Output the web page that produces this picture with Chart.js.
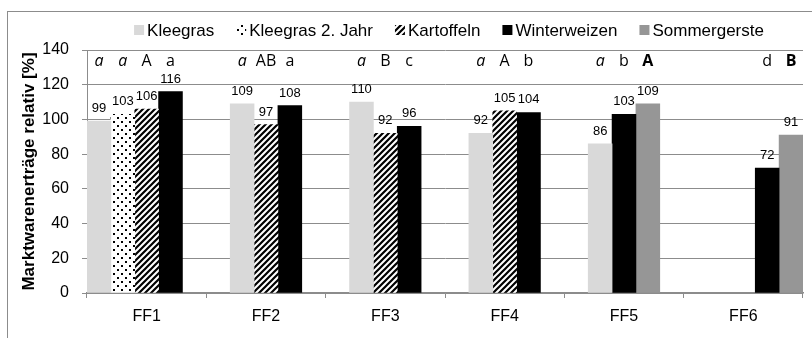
<!DOCTYPE html>
<html>
<head>
<meta charset="utf-8">
<script src="https://cdn.jsdelivr.net/npm/chart.js@4"></script>
<style>
  html, body { margin: 0; padding: 0; background: #fff; overflow: hidden; }
  #wrap { position: relative; width: 812px; height: 338px; overflow: hidden; }
  #frame { position: absolute; left: 7px; top: 11px; width: 830px; height: 360px; border: 1px solid #8c8c8c; }
  #chart { position: absolute; left: 0; top: 0; }
</style>
</head>
<body>
<div id="wrap"><div id="frame"></div><canvas id="chart" width="812" height="338"></canvas></div>
<script>
// values; null = no bar, 0 = empty slot kept for spacing
const categories = ["FF1", "FF2", "FF3", "FF4", "FF5", "FF6"];
const kleegras = [99, 109, 110, 92, 86, 0];
const kleegras2 = [103, null, null, null, null, 0];
const kartoffeln = [106, 97, 92, 105, null, 0];
const winterweizen = [116, 108, 96, 104, 103, 72];
const sommergerste = [0, null, null, null, 109, 91];

// significance letters above the bars
const lettersKleegras = ["a", "a", "a", "a", "a", ""];
const lettersKleegras2 = ["a", "", "", "", "", ""];
const lettersKartoffeln = ["A", "AB", "B", "A", "", ""];
const lettersWinterweizen = ["a", "a", "c", "b", "b", "d"];
const lettersSommergerste = ["", "", "", "", "A", "B"];

const yTicks = [0, 20, 40, 60, 80, 100, 120, 140];

const canvas = document.getElementById("chart");
const ctx = canvas.getContext("2d");

function dotPattern() {
    const t = document.createElement("canvas");
    t.width = 8; t.height = 8;
    const c = t.getContext("2d");
    c.fillStyle = "#fff";
    c.fillRect(0, 0, 8, 8);
    c.fillStyle = "#000";
    c.fillRect(1, 1, 2, 2);
    c.fillRect(5, 5, 2, 2);
    return ctx.createPattern(t, "repeat");
}

function stripePattern() {
    const s = 6;
    const t = document.createElement("canvas");
    t.width = s; t.height = s;
    const c = t.getContext("2d");
    c.fillStyle = "#fff";
    c.fillRect(0, 0, s, s);
    c.strokeStyle = "#000";
    c.lineWidth = 2.2;
    c.beginPath();
    c.moveTo(-1, 1); c.lineTo(1, -1);
    c.moveTo(0, s); c.lineTo(s, 0);
    c.moveTo(s - 1, s + 1); c.lineTo(s + 1, s - 1);
    c.stroke();
    return ctx.createPattern(t, "repeat");
}

const fills = ["#d9d9d9", dotPattern(), stripePattern(), "#000000", "#969696"];
// empty spacing slots stay invisible
const fillFor = i => c => (c.raw === 0 ? "rgba(0,0,0,0)" : fills[i]);

const letterFont = "'Open Sans', 'DejaVu Sans', sans-serif";
const letterSets = [lettersKleegras, lettersKleegras2, lettersKartoffeln, lettersWinterweizen, lettersSommergerste];
const letterStyles = ["italic 16px " + letterFont, "italic 16px " + letterFont, "16px " + letterFont, "16px " + letterFont, "bold 16px " + letterFont];

const labelsPlugin = {
    id: "barLabels",
    afterDatasetsDraw(chart) {
        const c = chart.ctx;
        const area = chart.chartArea;
        c.save();
        c.textAlign = "center";
        c.fillStyle = "#000";
        chart.data.datasets.forEach((ds, i) => {
            const meta = chart.getDatasetMeta(i);
            meta.data.forEach((bar, j) => {
                const v = ds.data[j];
                if (v) {
                    c.font = "13px 'Liberation Sans', Arial, sans-serif";
                    c.textBaseline = "alphabetic";
                    c.fillText(String(v), bar.x, bar.y - 9);
                }
                const l = letterSets[i][j];
                if (l) {
                    c.font = letterStyles[i];
                    c.textBaseline = "middle";
                    c.fillText(l, bar.x, area.top + 11);
                }
            });
        });
        c.restore();
    }
};

const legendPlugin = {
    id: "topLegend",
    afterDraw(chart) {
        const c = chart.ctx;
        const area = chart.chartArea;
        const box = 10, gap = 3, spacing = 22;
        c.save();
        c.font = "17px 'Liberation Sans', Arial, sans-serif";
        const items = chart.data.datasets.map((ds, i) => ({ text: ds.label, fill: fills[i] }));
        let total = 0;
        items.forEach(it => { it.w = c.measureText(it.text).width; total += box + gap + it.w; });
        total += spacing * (items.length - 1);
        let x = (area.left + area.right) / 2 + 4 - total / 2;
        const y = 30;
        c.textBaseline = "middle";
        c.textAlign = "left";
        items.forEach(it => {
            c.fillStyle = it.fill;
            c.fillRect(x, y - 5, box, box);
            c.fillStyle = "#000";
            c.fillText(it.text, x + box + gap, y + 1);
            x += box + gap + it.w + spacing;
        });
        c.restore();
    }
};

const gridColor = "#8c8c8c";

new Chart(ctx, {
    type: "bar",
    data: {
        labels: categories,
        datasets: [
            { label: "Kleegras", data: kleegras, backgroundColor: fillFor(0) },
            { label: "Kleegras 2. Jahr", data: kleegras2, backgroundColor: fillFor(1) },
            { label: "Kartoffeln", data: kartoffeln, backgroundColor: fillFor(2) },
            { label: "Winterweizen", data: winterweizen, backgroundColor: fillFor(3) },
            { label: "Sommergerste", data: sommergerste, backgroundColor: fillFor(4) }
        ]
    },
    options: {
        responsive: false,
        animation: false,
        events: [],
        layout: { padding: { top: 50, right: 9, left: 0, bottom: 0 } },
        datasets: {
            bar: { skipNull: true, barThickness: 23.85, borderWidth: 0 }
        },
        plugins: {
            legend: { display: false },
            tooltip: { enabled: false }
        },
        scales: {
            x: {
                grid: { drawOnChartArea: false, drawTicks: true, tickLength: 5, color: gridColor },
                border: { color: gridColor, width: 1.5 },
                ticks: { color: "#000", padding: 9, font: { family: "'Liberation Sans', Arial, sans-serif", size: 16 } },
                afterFit: s => { s.height = 45; }
            },
            y: {
                min: 0,
                max: 140,
                afterBuildTicks: s => { s.ticks = yTicks.map(v => ({ value: v })); },
                grid: { color: gridColor, tickLength: 5 },
                border: { color: gridColor },
                ticks: { color: "#000", padding: 13, font: { family: "'Liberation Sans', Arial, sans-serif", size: 16 } },
                title: {
                    display: true,
                    text: "Marktwarenerträge relativ [%]",
                    color: "#000",
                    padding: { top: 19, bottom: 0 },
                    font: { family: "'Liberation Sans', Arial, sans-serif", size: 17, weight: "bold" }
                },
                afterFit: s => { s.width = 87; }
            }
        }
    },
    plugins: [labelsPlugin, legendPlugin]
});
</script>
</body>
</html>
